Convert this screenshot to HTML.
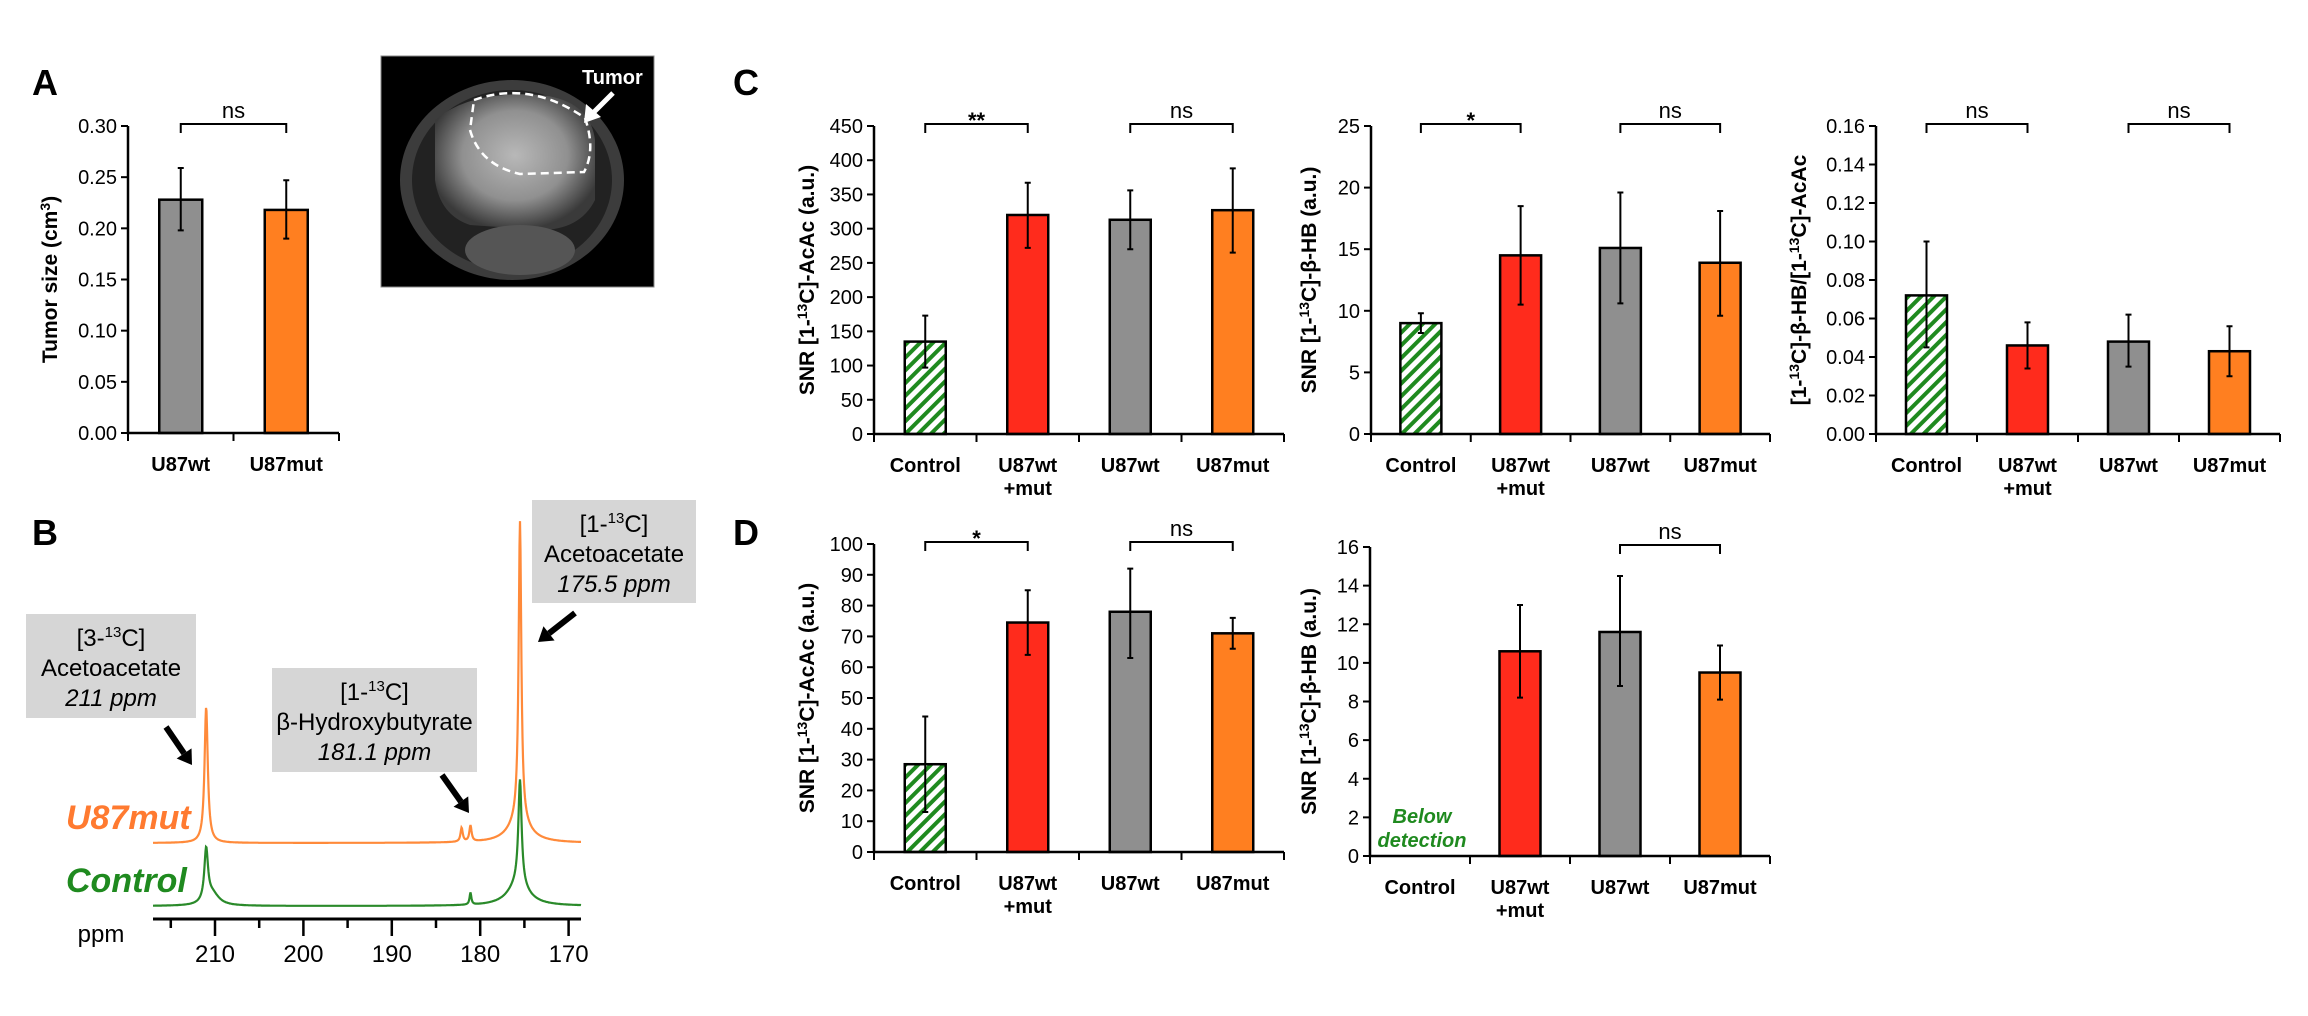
<!DOCTYPE html>
<html><head><meta charset="utf-8">
<style>
html,body{margin:0;padding:0;background:#fff;}
svg{display:block;}
text{font-family:"Liberation Sans Narrow","Liberation Sans",sans-serif;}
.b{font-family:"Liberation Sans",sans-serif;font-weight:bold;}
</style></head>
<body>
<svg id="fig" width="2308" height="1016" viewBox="0 0 2308 1016" xmlns="http://www.w3.org/2000/svg">
<defs>
<pattern id="hatch" patternUnits="userSpaceOnUse" width="9" height="9" patternTransform="rotate(45)">
<rect width="9" height="9" fill="#fff"/><rect width="4" height="9" fill="#1f8a1f"/>
</pattern>
<radialGradient id="brainG" cx="0.5" cy="0.45" r="0.55">
<stop offset="0" stop-color="#b8b8b8"/><stop offset="0.6" stop-color="#909090"/><stop offset="1" stop-color="#3a3a3a"/>
</radialGradient>
</defs>
<g id="root"></g>
<!-- panel letters -->
<text class="b" x="32" y="95" font-size="36">A</text>
<text class="b" x="32" y="545" font-size="36">B</text>
<text class="b" x="733" y="95" font-size="36">C</text>
<text class="b" x="733" y="545" font-size="36">D</text>
<!-- MRI image -->
<g>
<rect x="381" y="56" width="273" height="231" fill="#000" stroke="#888" stroke-width="1"/>
<ellipse cx="512" cy="180" rx="112" ry="100" fill="#3c3c3c"/>
<ellipse cx="512" cy="180" rx="100" ry="90" fill="#222"/>
<path d="M435 120 Q470 90 540 95 Q590 100 595 140 L595 200 Q580 230 540 230 L470 225 Q440 215 435 180 Z" fill="url(#brainG)"/>
<ellipse cx="520" cy="250" rx="55" ry="25" fill="#555"/>
<path d="M474 100 Q530 80 585 118 Q596 150 584 172 L520 174 Q480 165 470 130 Z" fill="none" stroke="#fff" stroke-width="2.5" stroke-dasharray="8 5"/>
</g>
<text class="b" x="582" y="84" font-size="20" fill="#fff">Tumor</text>
<g>
<line x1="613" y1="93" x2="592" y2="114" stroke="#fff" stroke-width="5"/>
<polygon points="584,123 586,104 601,117" fill="#fff"/>
</g>
</svg>
<script>
var NS='http://www.w3.org/2000/svg';
var root=document.getElementById('root');
function el(tag,attrs,parent){var e=document.createElementNS(NS,tag);for(var k in attrs)e.setAttribute(k,attrs[k]);(parent||root).appendChild(e);return e;}

/* ---------- data ---------- */
var catsA=['U87wt','U87mut'];
var valsA=[0.228,0.218];
var loA=[0.198,0.190];
var hiA=[0.259,0.247];

var cats4=['Control','U87wt|+mut','U87wt','U87mut'];
var valsC1=[135,320,313,327];
var loC1=[97,272,270,265];
var hiC1=[173,367,356,388];

var valsC2=[9.0,14.5,15.1,13.9];
var loC2=[8.2,10.5,10.6,9.6];
var hiC2=[9.8,18.5,19.6,18.1];

var valsC3=[0.072,0.046,0.048,0.043];
var loC3=[0.045,0.034,0.035,0.030];
var hiC3=[0.100,0.058,0.062,0.056];

var valsD1=[28.5,74.5,78,71];
var loD1=[13,64,63,66];
var hiD1=[44,85,92,76];

var valsD2=[null,10.6,11.6,9.5];
var loD2=[null,8.2,8.8,8.1];
var hiD2=[null,13.0,14.5,10.9];

var fills4=['url(#hatch)','#ff2b1c','#8f8f8f','#ff7f20'];
var fillsA=['#8f8f8f','#ff7f20'];

/* spectrum data: peaks (ppm, amplitude a.u., half-width ppm) */
var mutPpm=[211.0,182.1,181.1,175.5,175.6];
var mutAmp=[136,14,16,300,22];
var mutHw=[0.22,0.15,0.15,0.18,1.4];
var ctlPpm=[211.0,210.3,181.1,175.5,175.7];
var ctlAmp=[52,12,12,105,22];
var ctlHw=[0.25,0.9,0.12,0.22,1.4];
var ppmTicks=[210,200,190,180,170];

/* ---------- bar chart ---------- */
function barChart(o){
  var g=el('g',{});
  
  
  var n=o.cats.length, cw=(o.x1-o.x0)/n;
  function Y(v){return o.y0-(v/o.max)*(o.y0-o.y1);}
  function X(i){return o.x0+cw*(i+0.5);}
  // y ticks
  for(var v=0;v<=o.max+1e-9;v+=o.step){
    var y=Y(v);
    var t=el('line',{x1:o.x0-7,x2:o.x0,y1:y,y2:y,stroke:'#000','stroke-width':2},g);
    
    
    var tl=el('text',{x:o.x0-11,y:y+7,'font-size':20,'text-anchor':'end'},g);
    
    
    tl.textContent=v.toFixed(o.dec);
  }
  // bars
  for(var i=0;i<n;i++){
    if(o.vals[i]!==null){
      var b=el('rect',{x:X(i)-o.bw/2,y:Y(o.vals[i]),width:o.bw,height:o.y0-Y(o.vals[i]),fill:o.fills[i],stroke:'#000','stroke-width':2.5},g);
      
      
      var e=el('path',{d:'M'+X(i)+' '+Y(o.lo[i])+'V'+Y(o.hi[i])+'M'+(X(i)-3)+' '+Y(o.lo[i])+'H'+(X(i)+3)+'M'+(X(i)-3)+' '+Y(o.hi[i])+'H'+(X(i)+3),stroke:'#000','stroke-width':2,fill:'none'},g);
      
      
    }
    var parts=o.cats[i].split('|');
    for(var p=0;p<parts.length;p++){
      var xl=el('text',{x:X(i),y:o.y0+38+p*23,'font-size':20,'font-weight':'bold','text-anchor':'middle'},g);
      
      
      xl.textContent=parts[p];
    }
  }
  // axes
  var ax=el('path',{d:'M'+o.x0+' '+(o.y1)+'V'+o.y0+'H'+o.x1,stroke:'#000','stroke-width':2.5,fill:'none'},g);
  
  
  for(var k=0;k<=n;k++){
    var xt=o.x0+cw*k;
    var xk=el('line',{x1:xt,x2:xt,y1:o.y0,y2:o.y0+8,stroke:'#000','stroke-width':2},g);
    
    
  }
  // brackets
  (o.brackets||[]).forEach(function(br){
    var xa=X(br[0]),xb=X(br[1]),yb=o.y1-2;
    var bp=el('path',{d:'M'+xa+' '+(yb+9)+'V'+yb+'H'+xb+'V'+(yb+9),stroke:'#000','stroke-width':2,fill:'none'},g);
    
    
    var st=el('text',{x:(xa+xb)/2,y:yb-(br[2]==='ns'?6:-4),'font-size':br[2]==='ns'?22:22,'text-anchor':'middle','font-weight':br[2]==='ns'?'normal':'bold'},g);
    
    
    st.textContent=br[2];
  });
  // y title
  var yt=el('text',{x:0,y:0,'font-size':21,'text-anchor':'middle',class:'b',transform:'translate('+(o.tx)+','+((o.y0+o.y1)/2)+') rotate(-90)'},g);
  
  
  yt.innerHTML=o.title;
  return {g:g,X:X,Y:Y};
}

barChart({name:'chart-a-tumor-size',cats:catsA,vals:valsA,lo:loA,hi:hiA,fills:fillsA,x0:128,x1:339,y0:433,y1:126,max:0.30,step:0.05,dec:2,bw:43,tx:57,
  brackets:[[0,1,'ns']],title:'Tumor size (cm<tspan dy="-7" font-size="14">3</tspan><tspan dy="7">)</tspan>'});
var t13='<tspan dy="-7" font-size="14">13</tspan><tspan dy="7">C]</tspan>';
barChart({name:'chart-c-acac',cats:cats4,vals:valsC1,lo:loC1,hi:hiC1,fills:fills4,x0:874,x1:1284,y0:434,y1:126,max:450,step:50,dec:0,bw:41,tx:814,
  brackets:[[0,1,'**'],[2,3,'ns']],title:'SNR [1-'+t13+'-AcAc (a.u.)'});
barChart({name:'chart-c-bhb',cats:cats4,vals:valsC2,lo:loC2,hi:hiC2,fills:fills4,x0:1371,x1:1770,y0:434,y1:126,max:25,step:5,dec:0,bw:41,tx:1316,
  brackets:[[0,1,'*'],[2,3,'ns']],title:'SNR [1-'+t13+'-β-HB (a.u.)'});
barChart({name:'chart-c-ratio',cats:cats4,vals:valsC3,lo:loC3,hi:hiC3,fills:fills4,x0:1876,x1:2280,y0:434,y1:126,max:0.16,step:0.02,dec:2,bw:41,tx:1806,
  brackets:[[0,1,'ns'],[2,3,'ns']],title:'[1-'+t13+'-β-HB/[1-'+t13+'-AcAc'});
barChart({name:'chart-d-acac',cats:cats4,vals:valsD1,lo:loD1,hi:hiD1,fills:fills4,x0:874,x1:1284,y0:852,y1:544,max:100,step:10,dec:0,bw:41,tx:814,
  brackets:[[0,1,'*'],[2,3,'ns']],title:'SNR [1-'+t13+'-AcAc (a.u.)'});
barChart({name:'chart-d-bhb',cats:cats4,vals:valsD2,lo:loD2,hi:hiD2,fills:fills4,x0:1370,x1:1770,y0:856,y1:547,max:16,step:2,dec:0,bw:41,tx:1316,
  brackets:[[2,3,'ns']],title:'SNR [1-'+t13+'-β-HB (a.u.)'});

var bd1=el('text',{x:1422,y:823,'font-size':20,'text-anchor':'middle',fill:'#1f8a1f','font-weight':'bold','font-style':'italic'});


bd1.innerHTML='<tspan x="1422">Below</tspan><tspan x="1422" dy="24">detection</tspan>';

/* ---------- spectrum ---------- */
var sg=el('g',{});


function PX(ppm){return 215+(210-ppm)*8.84;}
function line(ppmArr,ampArr,hwArr,base,color,name){
  var d='';
  for(var x=153;x<=581;x+=0.5){
    var ppm=210-(x-215)/8.84, s=0;
    for(var i=0;i<ppmArr.length;i++){var u=(ppm-ppmArr[i])/hwArr[i];s+=ampArr[i]/(1+u*u);}
    d+=(d?'L':'M')+x+' '+(base-s).toFixed(1);
  }
  var p=el('path',{d:d,stroke:color,'stroke-width':2.2,fill:'none'},sg);
  
  
}
line(mutPpm,mutAmp,mutHw,843,'#ff8a3a','spectrum-u87mut');
line(ctlPpm,ctlAmp,ctlHw,906,'#2a8a2a','spectrum-control');
var sax=el('line',{x1:153,x2:581,y1:919,y2:919,stroke:'#000','stroke-width':3},sg);


for(var m=215;m>=170;m-=5){
  var mj=(m%10===0);
  var tk=el('line',{x1:PX(m),x2:PX(m),y1:919,y2:mj?936:928,stroke:'#000','stroke-width':2.5},sg);
  
  
}
ppmTicks.forEach(function(v){
  var tl=el('text',{x:PX(v),y:962,'font-size':24,'text-anchor':'middle'},sg);
  
  
  tl.textContent=v;
});
var pl=el('text',{x:101,y:942,'font-size':24,'text-anchor':'middle'},sg);


pl.textContent='ppm';
var lm=el('text',{x:66,y:829,'font-size':34,fill:'#ff7a30','font-weight':'bold','font-style':'italic'},sg);


lm.textContent='U87mut';
var lc=el('text',{x:66,y:892,'font-size':34,fill:'#1f8a1f','font-weight':'bold','font-style':'italic'},sg);


lc.textContent='Control';

function box(x,y,w,h,l1,l2,l3,name){
  var bg=el('g',{},sg);
  
  
  el('rect',{x:x,y:y,width:w,height:h,fill:'#d6d6d6'},bg);
  var cx=x+w/2;
  var a=el('text',{x:cx,y:y+32,'font-size':24,'text-anchor':'middle'},bg);a.innerHTML=l1;
  var b=el('text',{x:cx,y:y+62,'font-size':24,'text-anchor':'middle'},bg);b.textContent=l2;
  var c=el('text',{x:cx,y:y+92,'font-size':24,'text-anchor':'middle','font-style':'italic'},bg);c.textContent=l3;
}
var sup='<tspan dy="-9" font-size="15">13</tspan><tspan dy="9">C]</tspan>';
box(26,614,170,104,'[3-'+sup,'Acetoacetate','211 ppm','label-box-acac-211');
box(272,668,205,104,'[1-'+sup,'β-Hydroxybutyrate','181.1 ppm','label-box-bhb');
box(532,500,164,103,'[1-'+sup,'Acetoacetate','175.5 ppm','label-box-acac-175');
function arrow(x1,y1,x2,y2,name){
  var dx=x2-x1,dy=y2-y1,L=Math.sqrt(dx*dx+dy*dy),ux=dx/L,uy=dy/L;
  var bx=x2-ux*14,by=y2-uy*14;
  var ag=el('g',{},sg);
  
  
  el('line',{x1:x1,y1:y1,x2:bx,y2:by,stroke:'#000','stroke-width':6},ag);
  el('polygon',{points:x2+','+y2+' '+(bx-uy*9)+','+(by+ux*9)+' '+(bx+uy*9)+','+(by-ux*9),fill:'#000'},ag);
}
arrow(166,727,192,765,'arrow-acac-211');
arrow(442,775,469,813,'arrow-bhb');
arrow(575,613,538,642,'arrow-acac-175');
</script>
</body></html>
